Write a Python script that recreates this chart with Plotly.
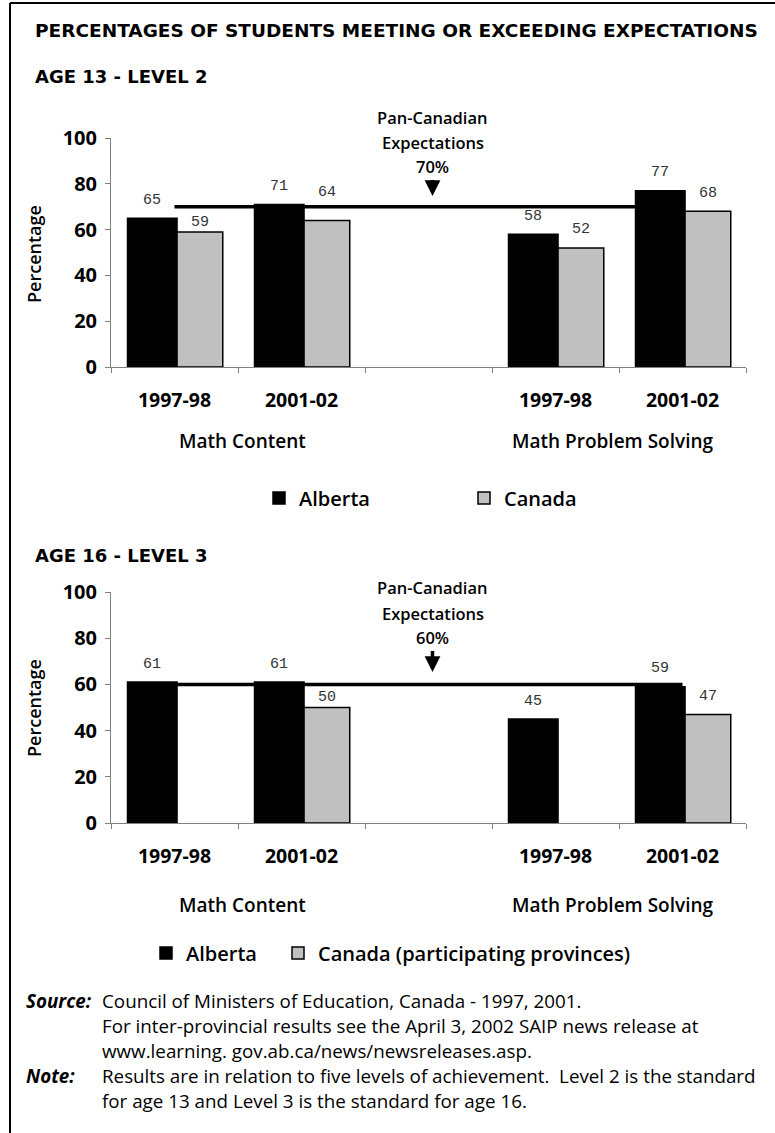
import plotly.graph_objects as go

# ---- data -------------------------------------------------------------
categories = ["1997-98", "2001-02", "", "1997-98", "2001-02"]
groups = ["Math Content", "Math Problem Solving"]

age13_alberta = [65, 71, None, 58, 77]
age13_canada = [59, 64, None, 52, 68]
age13_expectation = 70

age16_alberta = [61, 61, None, 45, 59]
age16_canada = [None, 50, None, None, 47]
age16_expectation = 60

# ---- page geometry helpers ---------------------------------------------
W, H = 775, 1133


def px(p):
    return p / W


def py(p):
    return 1 - p / H


LABEL_FONT = "Open Sans"
HEAD_FONT = "DejaVu Sans"
VALUE_FONT = "Liberation Mono"

AB_OFFSET, AB_WIDTH = -0.37, 0.39
CA_OFFSET, CA_WIDTH = 0.02, 0.36

x_idx = list(range(len(categories)))

fig = go.Figure()


def add_panel(xa, ya, alberta, canada, canada_name, leg_ab, leg_ca):
    fig.add_trace(go.Bar(
        x=x_idx, y=alberta, name="Alberta", xaxis=xa, yaxis=ya,
        offset=AB_OFFSET, width=AB_WIDTH, legend=leg_ab,
        marker=dict(color="#000000", line=dict(color="#000000", width=1.5)),
        hoverinfo="skip",
    ))
    fig.add_trace(go.Bar(
        x=x_idx, y=canada, name=canada_name, xaxis=xa, yaxis=ya,
        offset=CA_OFFSET, width=CA_WIDTH, legend=leg_ca,
        marker=dict(color="#c0c0c0", line=dict(color="#000000", width=1.5)),
        hoverinfo="skip",
    ))


add_panel("x", "y", age13_alberta, age13_canada, "Canada",
          "legend", "legend2")
add_panel("x2", "y2", age16_alberta, age16_canada,
          "Canada (participating provinces)", "legend3", "legend4")

annotations = []

# value labels above each bar (a few nudged clear of the expectation line)
nudges = {("13", "ca", 0): 9, ("13", "ca", 1): 28, ("16", "ca", 1): 10}


def value_labels(tag, xa, ya, alberta, canada):
    for key, vals, off, wd in (("ab", alberta, AB_OFFSET, AB_WIDTH),
                               ("ca", canada, CA_OFFSET, CA_WIDTH)):
        for i, v in enumerate(vals):
            if v is None:
                continue
            annotations.append(dict(
                x=i + off + wd / 2, y=v, xref=xa, yref=ya,
                text=str(v), showarrow=False, yanchor="middle",
                yshift=nudges.get((tag, key, i), 18),
                font=dict(family=VALUE_FONT, size=15, color="#333333"),
            ))


value_labels("13", "x", "y", age13_alberta, age13_canada)
value_labels("16", "x2", "y2", age16_alberta, age16_canada)

# expectation lines, drawn behind the bars
shapes = [
    dict(type="line", xref="x", yref="y", x0=0, x1=4,
         y0=age13_expectation, y1=age13_expectation,
         line=dict(color="#000000", width=3.5), layer="below"),
    dict(type="line", xref="x2", yref="y2", x0=0, x1=4,
         y0=age16_expectation, y1=age16_expectation,
         line=dict(color="#000000", width=3.5), layer="below"),
]

# expectation callouts: two text lines, then the percentage with its arrow
callout_font = dict(family=LABEL_FONT, size=16.5, color="#000000", weight=600)
for xa, pct, rows, tip in (("x", age13_expectation, (118, 143, 167), 196),
                           ("x2", age16_expectation, (587, 613, 638), 672)):
    for txt, ypix in zip(("Pan-Canadian", "Expectations"), rows[:2]):
        annotations.append(dict(
            x=2, y=py(ypix), xref=xa, yref="paper", xshift=4,
            text=txt, showarrow=False, yanchor="middle", font=callout_font))
    annotations.append(dict(
        x=2, y=py(tip), xref=xa, yref="paper", xshift=4,
        text=f"{pct}%", showarrow=True, ax=0, ay=rows[2] - tip,
        arrowhead=2, arrowsize=0.9, arrowwidth=3.5, arrowcolor="#000000",
        standoff=0, font=callout_font,
    ))

# group labels under the category ticks
for xa, ypix in (("x", 441), ("x2", 905)):
    for g, xc, sh in zip(groups, (0.5, 3.5), (4, -6)):
        annotations.append(dict(
            x=xc, y=py(ypix), xref=xa, yref="paper", text=g, xshift=sh,
            showarrow=False, yanchor="middle",
            font=dict(family=LABEL_FONT, size=19, color="#000000", weight=600),
        ))

# y-axis titles
for ypix in (254, 708):
    annotations.append(dict(
        x=px(34), y=py(ypix), xref="paper", yref="paper", text="Percentage",
        textangle=-90, showarrow=False, xanchor="center", yanchor="middle",
        font=dict(family=LABEL_FONT, size=18, color="#000000", weight=600),
    ))

# headings
annotations += [
    dict(x=px(33), y=py(30), xref="paper", yref="paper", xanchor="left",
         yanchor="middle", showarrow=False,
         text="PERCENTAGES OF STUDENTS MEETING OR EXCEEDING EXPECTATIONS",
         font=dict(family=HEAD_FONT, size=18.5, color="#000000", weight="bold")),
    dict(x=px(33), y=py(77), xref="paper", yref="paper", xanchor="left",
         yanchor="middle", showarrow=False, text="AGE 13 - LEVEL 2",
         font=dict(family=HEAD_FONT, size=18, color="#000000", weight="bold")),
    dict(x=px(33), y=py(555), xref="paper", yref="paper", xanchor="left",
         yanchor="middle", showarrow=False, text="AGE 16 - LEVEL 3",
         font=dict(family=HEAD_FONT, size=18, color="#000000", weight="bold")),
]

# footnotes
foot_font = dict(family=LABEL_FONT, size=18.8, color="#000000")
foot_lines = [
    (1001, "<b><i>Source:</i></b>", "Council of Ministers of Education, Canada - 1997, 2001."),
    (1026, "", "For inter-provincial results see the April 3, 2002 SAIP news release at"),
    (1051, "", "www.learning. gov.ab.ca/news/newsreleases.asp."),
    (1076, "<b><i>Note:</i></b>", "Results are in relation to five levels of achievement.  Level 2 is the standard"),
    (1101, "", "for age 13 and Level 3 is the standard for age 16."),
]
for ypix, lead, body in foot_lines:
    if lead:
        annotations.append(dict(
            x=px(24), y=py(ypix), xref="paper", yref="paper", xanchor="left",
            yanchor="middle", showarrow=False, text=lead, font=foot_font))
    annotations.append(dict(
        x=px(100), y=py(ypix), xref="paper", yref="paper", xanchor="left",
        yanchor="middle", showarrow=False, text=body, font=foot_font))

# outline along the top and left edges of the page
shapes += [
    dict(type="line", xref="paper", yref="paper", x0=px(10), x1=1,
         y0=py(3), y1=py(3), line=dict(color="#000000", width=2)),
    dict(type="line", xref="paper", yref="paper", x0=px(10), x1=px(10),
         y0=py(3), y1=0, line=dict(color="#000000", width=2)),
]

axis_line = "#808080"
xaxis_common = dict(
    range=[-0.5, 4.5], tickmode="array", tickvals=[0, 1, 3, 4],
    ticktext=[categories[i] for i in (0, 1, 3, 4)],
    ticks="", showgrid=False, zeroline=False, showline=True,
    linecolor=axis_line, linewidth=1, ticklabelstandoff=16,
    tickfont=dict(family=LABEL_FONT, size=19.5, color="#000000", weight="bold"),
    minor=dict(tickmode="array", tickvals=[-0.5, 0.5, 1.5, 2.5, 3.5, 4.5],
               ticks="outside", ticklen=5, tickcolor=axis_line, tickwidth=1,
               showgrid=False),
    fixedrange=True,
)
yaxis_common = dict(
    range=[0, 100], tickmode="array", tickvals=[0, 20, 40, 60, 80, 100],
    ticks="outside", ticklen=5, tickcolor=axis_line, showgrid=False,
    zeroline=False, showline=True, linecolor=axis_line, linewidth=1,
    ticklabelstandoff=4,
    tickfont=dict(family=LABEL_FONT, size=20, color="#000000", weight="bold"),
    fixedrange=True,
)

legend_common = dict(
    orientation="h", xanchor="left", yanchor="middle",
    font=dict(family=LABEL_FONT, size=20, color="#000000", weight=600),
    bgcolor="rgba(0,0,0,0)", itemclick=False, itemdoubleclick=False,
)

fig.update_layout(
    width=W, height=H,
    margin=dict(l=0, r=0, t=0, b=0, pad=0, autoexpand=False),
    paper_bgcolor="#ffffff", plot_bgcolor="#ffffff",
    barmode="overlay", showlegend=True,
    xaxis=dict(domain=[px(111), px(746)], anchor="y", **xaxis_common),
    yaxis=dict(domain=[py(367), py(138)], anchor="x", **yaxis_common),
    xaxis2=dict(domain=[px(111), px(746)], anchor="y2", **xaxis_common),
    yaxis2=dict(domain=[py(823), py(592)], anchor="x2", **yaxis_common),
    legend=dict(x=px(259), y=py(498), **legend_common),
    legend2=dict(x=px(464), y=py(498), **legend_common),
    legend3=dict(x=px(146), y=py(953), **legend_common),
    legend4=dict(x=px(278), y=py(953), **legend_common),
    annotations=annotations,
    shapes=shapes,
)

fig.write_html(
    "out.html",
    config={"displayModeBar": False},
    post_script="document.body.style.margin='0';",
)
